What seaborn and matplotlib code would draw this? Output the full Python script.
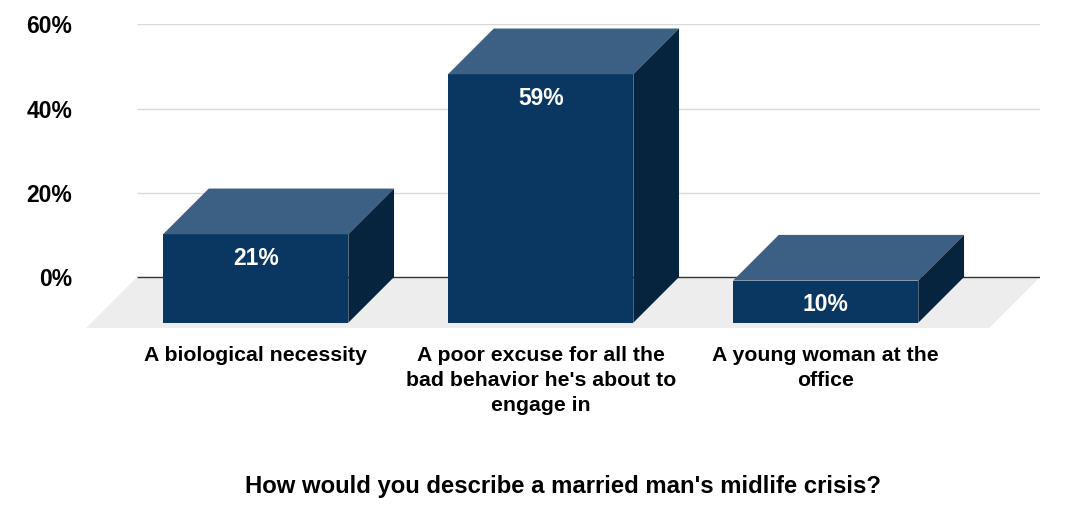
import matplotlib.pyplot as plt
import pandas as pd
import seaborn as sns
from matplotlib.patches import Polygon

# データ
categories = [
    "A biological necessity",
    "A poor excuse for all the\nbad behavior he's about to\nengage in",
    "A young woman at the\noffice",
]
shares = [21, 59, 10]
y_ticks = [0, 20, 40, 60]
axis_title = "How would you describe a married man's midlife crisis?"

# 色
FRONT = "#0a3761"
TOP = "#3b6084"
SIDE = "#07243f"
FLOOR = "#ededed"
GRID = "#d9d9d9"

sns.set_theme(style="white")
plt.rcParams["font.family"] = ["Liberation Sans", "DejaVu Sans"]

W, H = 1066, 508
fig = plt.figure(figsize=(W / 100, H / 100), dpi=100)
# 軸の位置（ピクセル基準）
ax = fig.add_axes([86 / W, 1 - 328 / H, (1040 - 86) / W, (328 - 24.3) / H])

bar_w = 0.65
px_x = 285.0                     # カテゴリ1つ分のピクセル
px_y = (277 - 24.3) / 60         # 1%あたりのピクセル
dx, dy = 45.7 / px_x, 45.7 / px_y    # 棒の奥行き
fdx, fdy = 51 / px_x, 51 / px_y      # 床の奥行き
x_back_left = (137 - 255.7) / px_x
x_right = (1040 - 255.7) / px_x

df = pd.DataFrame({"answer": categories, "share": shares})
sns.barplot(data=df, x="answer", y="share", color=FRONT, saturation=1,
            width=bar_w, bottom=-dy, linewidth=0, ax=ax, zorder=3)
bars = list(ax.patches)

# 床
floor = Polygon([(x_back_left, 0), (x_right, 0), (x_right - fdx, -fdy),
                 (x_back_left - fdx, -fdy)], closed=True, facecolor=FLOOR,
                edgecolor="none", zorder=0)
ax.add_patch(floor)

# グリッド線
ax.hlines([t for t in y_ticks if t > 0], x_back_left, x_right, color=GRID,
          lw=1, zorder=1)
ax.hlines(0, x_back_left, x_right, color="#333333", lw=1, zorder=1)

# 上面・側面と数値ラベル
for p, v in zip(bars, shares):
    x0 = p.get_x()
    x1 = x0 + p.get_width()
    bot = p.get_y()
    top = bot + p.get_height()
    ax.add_patch(Polygon([(x0, top), (x1, top), (x1 + dx, top + dy), (x0 + dx, top + dy)],
                         closed=True, facecolor=TOP, edgecolor="none", zorder=3))
    ax.add_patch(Polygon([(x1, top), (x1 + dx, top + dy), (x1 + dx, bot + dy), (x1, bot)],
                         closed=True, facecolor=SIDE, edgecolor="none", zorder=3))
    ax.annotate(f"{v}%", ((x0 + x1) / 2, top), xytext=(0, -17.5),
                textcoords="offset points", ha="center", va="center",
                color="white", fontweight="bold", fontsize=16.5, zorder=4)

ax.set_xlim(x_back_left - fdx, x_right)
ax.set_ylim(-fdy, 60)

ax.set_yticks(y_ticks, labels=[f"{t}%" for t in y_ticks], fontweight="bold",
              fontsize=16.5, color="black")
ax.set_xticks(range(len(categories)), labels=categories, fontweight="bold",
              fontsize=15.3, color="black", linespacing=1.4)
ax.tick_params(axis="y", length=0, pad=10)
ax.tick_params(axis="x", length=0, pad=13)

ax.set_xlabel(axis_title, fontweight="bold", fontsize=17.2, color="black")
ax.xaxis.set_label_coords(0.5, (328 - 487) / (328 - 24.3))
ax.xaxis.label.set_va("center")
ax.set_ylabel("")

for s in ax.spines.values():
    s.set_visible(False)

fig.savefig("out.png", dpi=100)
